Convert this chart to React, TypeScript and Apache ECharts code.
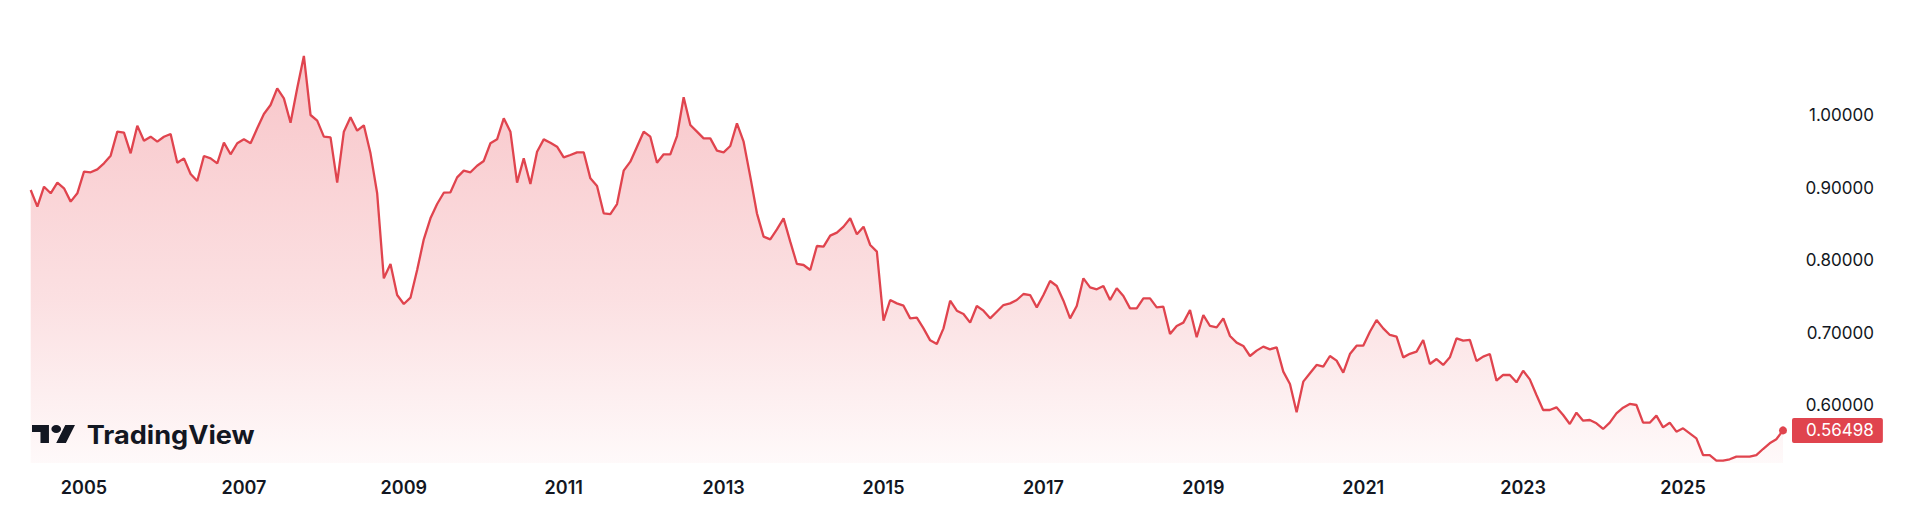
import React, { useEffect, useRef } from "react";
import * as echarts from "echarts";

// Monthly closes, first month May 2004
const START_YEAR = 2004;
const START_MONTH = 5;

const values2004to2009 = [
  0.8966, 0.8736, 0.9011, 0.892, 0.9067, 0.8989, 0.8805, 0.892, 0.9218, 0.921,
  0.925, 0.9333, 0.9439, 0.977, 0.9756, 0.9471, 0.9853, 0.9646, 0.9701, 0.9632,
  0.97, 0.9738, 0.9342, 0.9402, 0.9186, 0.909, 0.9434, 0.9402, 0.9333, 0.9618,
  0.9458, 0.961, 0.9664, 0.961, 0.9816, 1.0014, 1.0138, 1.0368, 1.023, 0.9894,
  1.0368, 1.0814, 1.0, 0.9922, 0.9701, 0.9692, 0.9067, 0.977, 0.9968, 0.9784,
  0.9858, 0.9471, 0.892, 0.7747, 0.7945, 0.7517, 0.7393, 0.748, 0.7862, 0.8285,
  0.8575, 0.8772, 0.8928, 0.8934, 0.914, 0.9232, 0.921, 0.93,
];
const values2010to2015 = [
  0.9366, 0.961, 0.9664, 0.9954, 0.977, 0.9067, 0.9402, 0.9048, 0.9494, 0.9664,
  0.9618, 0.9563, 0.9416, 0.9448, 0.9485, 0.9485, 0.9126, 0.9021, 0.8644, 0.8634,
  0.8772, 0.9232, 0.9356, 0.9563, 0.977, 0.9701, 0.9342, 0.9458, 0.9458, 0.971,
  1.0244, 0.9862, 0.977, 0.9678, 0.9678, 0.9508, 0.9485, 0.9572, 0.9885, 0.9632,
  0.915, 0.8644, 0.8322, 0.8285, 0.8423, 0.8575, 0.8253, 0.7945, 0.7931, 0.7862,
  0.8193, 0.8184, 0.8336, 0.8377, 0.846, 0.8575, 0.8354, 0.846, 0.8207, 0.8115,
  0.7163, 0.7448, 0.7402, 0.737, 0.7195, 0.7204, 0.7057, 0.6892,
];
const values2015to2021 = [
  0.6841, 0.7057, 0.7439, 0.7301, 0.7255, 0.7136, 0.7366, 0.7301, 0.7195, 0.7287,
  0.7379, 0.7402, 0.7448, 0.7531, 0.7517, 0.7347, 0.7517, 0.771, 0.7641, 0.7439,
  0.7195, 0.7366, 0.7747, 0.7623, 0.7596, 0.7641, 0.7448, 0.761, 0.7503, 0.7333,
  0.7333, 0.7471, 0.7471, 0.7347, 0.7356, 0.6979, 0.709, 0.7136, 0.731, 0.6934,
  0.7241, 0.709, 0.7071, 0.7195, 0.6952, 0.686, 0.6814, 0.6676, 0.675, 0.6805,
  0.6768, 0.6796, 0.646, 0.629, 0.5899, 0.6322, 0.6437, 0.6552, 0.6529, 0.6676,
  0.6612, 0.6446, 0.6703, 0.6818, 0.6818, 0.7011, 0.7172, 0.7057, 0.6966, 0.6943,
  0.6657, 0.6706,
];
const values2021to2026 = [
  0.6736, 0.6897, 0.6566, 0.6634, 0.6552, 0.6657, 0.692, 0.6887, 0.6897, 0.6607,
  0.6667, 0.6703, 0.6336, 0.6414, 0.6414, 0.6313, 0.6473, 0.6354, 0.6138, 0.5931,
  0.5931, 0.5968, 0.5862, 0.5738, 0.5894, 0.5784, 0.5793, 0.5747, 0.5669, 0.5756,
  0.5885, 0.5963, 0.6014, 0.6, 0.5756, 0.5756, 0.5853, 0.5692, 0.5756, 0.5632,
  0.5678, 0.5609, 0.554, 0.531, 0.531, 0.5232, 0.5232, 0.5251, 0.5287, 0.5287,
  0.5287, 0.531, 0.5393, 0.5472, 0.5527, 0.56498,
];

const values = [
  ...values2004to2009,
  ...values2010to2015,
  ...values2015to2021,
  ...values2021to2026,
];

const categories: string[] = values.map((_, i) => {
  const m0 = START_MONTH - 1 + i;
  const y = START_YEAR + Math.floor(m0 / 12);
  const m = (m0 % 12) + 1;
  return `${y}-${m < 10 ? "0" + m : m}`;
});

const X_LABEL_YEARS = [2005, 2007, 2009, 2011, 2013, 2015, 2017, 2019, 2021, 2023, 2025];
const Y_TICK_LABELS = [0.6, 0.7, 0.8, 0.9, 1.0];

const RED = "#E0444E";
const TEXT = "#131722";
const FONT = "Inter";

const LOGO_D =
  "M14 22H7V11H0V4h14v18zM28 22h-8l7.5-18h8L28 22zM24 8a4 4 0 1 1-8 0a4 4 0 1 1 8 0z";

export default function App() {
  const ref = useRef<HTMLDivElement>(null);

  useEffect(() => {
    if (!ref.current) return;
    try {
      echarts.graphic.registerShape("tvlogo", echarts.graphic.extendPath(LOGO_D, {}) as any);
    } catch (e) {}

    // measure wordmark to stretch it to the reference width
    let wordScale = 1;
    const cv = document.createElement("canvas").getContext("2d");
    if (cv) {
      cv.font = `700 25px ${FONT}`;
      const w = cv.measureText("TradingView").width;
      if (w > 0) wordScale = 168 / w;
    }

    const chart = echarts.init(ref.current, undefined, { renderer: "svg" });
    const last = values.length - 1;

    chart.setOption({
      animation: false,
      backgroundColor: "#ffffff",
      grid: {
        left: 30.7,
        right: 1918 - 1783,
        top: 0,
        bottom: 530 - 477.5,
        containLabel: false,
      },
      xAxis: {
        type: "category",
        data: categories,
        boundaryGap: false,
        axisLine: { show: false },
        axisTick: { show: false },
        splitLine: { show: false },
        axisLabel: {
          interval: (_i: number, v: string) =>
            v.endsWith("-01") && X_LABEL_YEARS.includes(Number(v.slice(0, 4))),
          formatter: (v: string) => v.slice(0, 4),
          margin: 1,
          color: TEXT,
          fontFamily: FONT,
          fontSize: 18,
          fontWeight: 600,
        },
      },
      yAxis: {
        type: "value",
        position: "right",
        min: 0.5,
        max: 1 + 115 / 725,
        interval: 0.1,
        splitLine: { show: false },
        axisLine: { show: false },
        axisTick: { show: false },
        axisLabel: {
          formatter: (v: number) =>
            Y_TICK_LABELS.some((t) => Math.abs(t - v) < 1e-6) ? v.toFixed(5) : "",
          align: "right",
          margin: 1874 - 1783,
          color: TEXT,
          fontFamily: FONT,
          fontSize: 17,
        },
      },
      series: [
        {
          type: "line",
          data: values,
          showSymbol: false,
          symbol: "none",
          lineStyle: { color: RED, width: 2.3 },
          areaStyle: {
            origin: 0.52,
            opacity: 1,
            color: new echarts.graphic.LinearGradient(0, 0, 0, 1, [
              { offset: 0, color: "rgba(232,62,74,0.30)" },
              { offset: 0.6, color: "rgba(232,62,74,0.16)" },
              { offset: 1, color: "rgba(232,62,74,0.03)" },
            ]),
          },
          z: 2,
        },
        {
          type: "scatter",
          data: [[categories[last], values[last]]],
          symbol: "circle",
          symbolSize: 8,
          itemStyle: { color: RED, opacity: 1 },
          z: 3,
          label: {
            show: true,
            position: "right",
            distance: 5,
            formatter: (p: any) => Number(p.value[1]).toFixed(5),
            backgroundColor: RED,
            color: "#ffffff",
            opacity: 1,
            padding: [4, 9, 4, 14],
            borderRadius: 2,
            fontFamily: FONT,
            fontSize: 17,
          },
        },
      ],
      graphic: [
        {
          type: "tvlogo",
          x: 32,
          y: 425 - 4 * 1.0,
          scaleX: 43 / 35.5,
          scaleY: 1.0,
          style: { fill: TEXT },
          z: 10,
        },
        {
          type: "text",
          x: 86.7,
          y: 434.5,
          scaleX: wordScale,
          style: {
            text: "TradingView",
            x: 0,
            y: 0,
            fill: TEXT,
            fontFamily: FONT,
            fontSize: 25,
            fontWeight: 700,
            verticalAlign: "middle",
            align: "left",
          },
          z: 10,
        },
      ],
    });

    return () => {
      chart.dispose();
    };
  }, []);

  return (
    <div
      ref={ref}
      style={{ position: "absolute", left: 0, top: 0, width: 1918, height: 530 }}
    />
  );
}
